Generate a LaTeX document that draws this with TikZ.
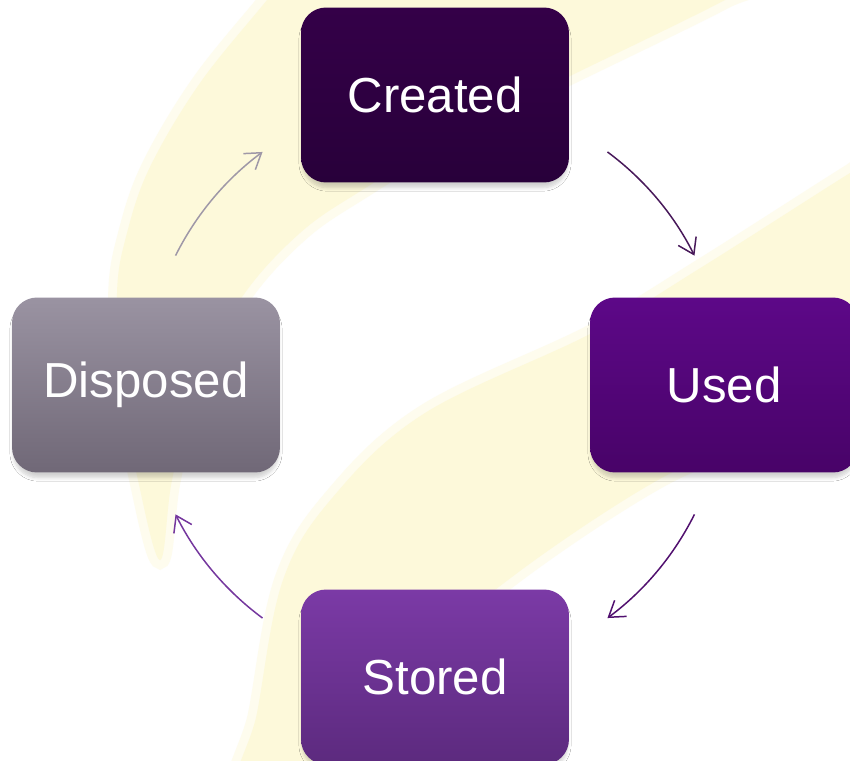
\documentclass[tikz,border=0pt]{standalone}
\usepackage{fontspec}
\setmainfont{Liberation Sans}
\usetikzlibrary{arrows.meta,calc,shadows.blur}
\definecolor{swoosh}{RGB}{253,249,218}
\definecolor{createdtop}{RGB}{52,0,72}
\definecolor{createdbot}{RGB}{40,0,58}
\definecolor{usedtop}{RGB}{93,8,136}
\definecolor{usedbot}{RGB}{72,3,104}
\definecolor{storedtop}{RGB}{123,58,166}
\definecolor{storedbot}{RGB}{92,42,126}
\definecolor{disposedtop}{RGB}{154,147,162}
\definecolor{disposedbot}{RGB}{112,104,119}
\tikzset{
    phase/.style={
            rounded corners=0.5cm, minimum width=5.36cm, minimum height=3.5cm,
            inner sep=0pt, text=white, font=\fontsize{28}{32}\selectfont,
            blur shadow={shadow xshift=0pt, shadow yshift=-3.5pt, shadow blur radius=2pt,
                    shadow scale=0.99, shadow blur steps=6, shadow opacity=18}
        },
    flow/.style={line width=0.85pt, -{Straight Barb[length=3mm,width=4mm]}},
    swooshfill/.style={fill=swoosh, preaction={draw=swoosh!45!white, line width=10pt}},
}
\begin{document}
\begin{tikzpicture}[x=0.02cm, y=0.02cm]
        \clip (0,0) rectangle (850,-761);
        \fill[white] (0,0) rectangle (850,-761);
        %background swooshes
        \path[swooshfill] plot[smooth cycle, tension=0.6] coordinates {
                (290,30) (267,0) (200,-83) (150,-167) (127,-233) (117,-293)
                (122,-390) (138,-480) (160,-560) (172,-480) (195,-390)
                (240,-300) (300,-233) (367,-187) (470,-125) (568,-77) (725,0) (770,30)};
        \path[swooshfill] plot[smooth cycle, tension=0.6] coordinates {
                (240,-800) (257,-713) (283,-580) (333,-497) (425,-413)
                (592,-333) (702,-267) (850,-173) (890,-150) (890,-400)
                (760,-440) (658,-480) (508,-580) (410,-670) (360,-800)};
        %lifecycle states
        \node[phase, top color=createdtop, bottom color=createdbot] (created) at (435,-95) {Created};
        \node[phase, top color=usedtop, bottom color=usedbot] (used) at (724,-385) {Used};
        \node[phase, top color=storedtop, bottom color=storedbot] (stored) at (435,-677) {Stored};
        \node[phase, top color=disposedtop, bottom color=disposedbot] (disposed) at (146,-385) {Disposed};
        %arc ends round the centre
        \coordinate (hub) at (435,-385);
        \coordinate (created-used) at ($(hub)+(53.5:5.8cm)$);
        \coordinate (used-stored) at ($(hub)+(-26.5:5.8cm)$);
        \coordinate (stored-disposed) at ($(hub)+(233.5:5.8cm)$);
        \coordinate (disposed-created) at ($(hub)+(153.5:5.8cm)$);
        %draw arrows
        \draw[flow, createdtop!90!white] (created-used) arc[start angle=53.5, end angle=26.5, radius=5.8cm];
        \draw[flow, usedbot!95!white] (used-stored) arc[start angle=-26.5, end angle=-53.5, radius=5.8cm];
        \draw[flow, storedtop!95!black] (stored-disposed) arc[start angle=233.5, end angle=206.5, radius=5.8cm];
        \draw[flow, disposedtop!95!white] (disposed-created) arc[start angle=153.5, end angle=126.5, radius=5.8cm];
    \end{tikzpicture}
\end{document}
